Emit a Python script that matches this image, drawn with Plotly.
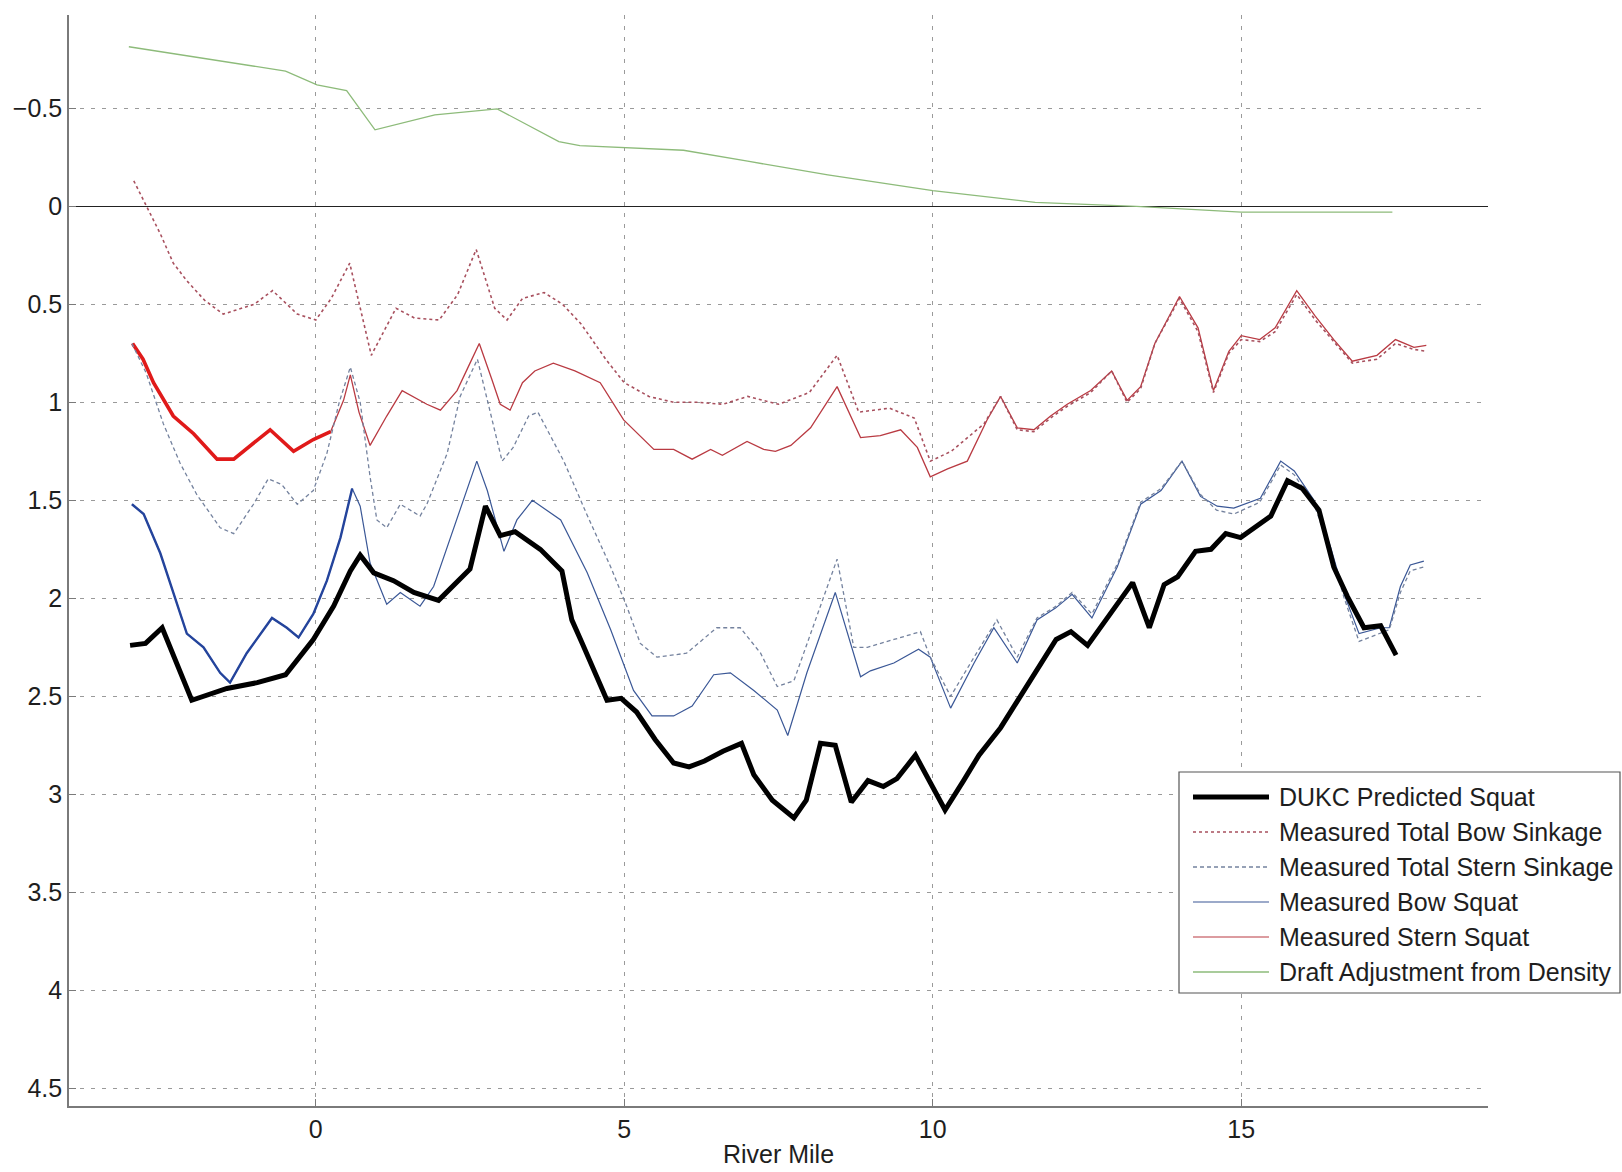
import plotly.graph_objects as go

# ---------------- data (river mile vs. squat / sinkage, ft) ----------------
dukc_mile = [-3.01, -2.76, -2.49, -2.01, -1.44, -0.95, -0.49, -0.04, 0.29, 0.56, 0.72, 0.94,
             1.26, 1.59, 1.99, 2.50, 2.75, 2.99, 3.23, 3.64, 3.99, 4.15, 4.32, 4.72, 4.95,
             5.20, 5.50, 5.80, 6.05, 6.30, 6.60, 6.90, 7.10, 7.40, 7.75, 7.95, 8.18, 8.42,
             8.68, 8.95, 9.20, 9.42, 9.72, 10.20, 10.50, 10.75, 11.10, 12.00, 12.24, 12.51,
             13.24, 13.51, 13.75, 13.97, 14.26, 14.51, 14.75, 14.99, 15.48, 15.75, 15.99,
             16.26, 16.50, 16.72, 16.99, 17.26, 17.51]
dukc_squat = [2.24, 2.23, 2.15, 2.52, 2.46, 2.43, 2.39, 2.21, 2.04, 1.86, 1.78, 1.87,
              1.91, 1.97, 2.01, 1.85, 1.53, 1.68, 1.66, 1.75, 1.86, 2.11, 2.23, 2.52, 2.51,
              2.58, 2.72, 2.84, 2.86, 2.83, 2.78, 2.74, 2.90, 3.03, 3.12, 3.03, 2.74, 2.75,
              3.04, 2.93, 2.96, 2.92, 2.80, 3.08, 2.93, 2.80, 2.66, 2.21, 2.17, 2.24,
              1.92, 2.15, 1.93, 1.89, 1.76, 1.75, 1.67, 1.69, 1.58, 1.40, 1.44,
              1.55, 1.84, 1.99, 2.15, 2.14, 2.29]

bow_sink_mile = [-2.95, -2.74, -2.52, -2.31, -2.09, -1.80, -1.50, -1.00, -0.70, -0.30, 0.00,
                 0.25, 0.55, 0.90, 1.30, 1.60, 2.00, 2.30, 2.60, 2.90, 3.10, 3.35, 3.70, 4.00,
                 4.30, 4.70, 5.00, 5.40, 5.80, 6.20, 6.60, 7.00, 7.50, 8.00, 8.45, 8.80, 9.30,
                 9.70, 9.96, 10.30, 10.83, 11.10, 11.37, 11.64, 11.91, 12.18, 12.56, 12.90,
                 13.15, 13.37, 13.60, 14.00, 14.30, 14.55, 14.80, 15.00, 15.30, 15.55, 15.90,
                 16.20, 16.50, 16.80, 17.20, 17.50, 17.80, 18.00]
bow_sink = [-0.13, 0.00, 0.14, 0.29, 0.38, 0.48, 0.55, 0.50, 0.43, 0.55, 0.58,
            0.47, 0.29, 0.76, 0.52, 0.57, 0.58, 0.45, 0.22, 0.52, 0.58, 0.47, 0.44, 0.50,
            0.60, 0.78, 0.90, 0.97, 1.00, 1.00, 1.01, 0.97, 1.01, 0.95, 0.76, 1.05, 1.03,
            1.08, 1.30, 1.25, 1.11, 0.97, 1.14, 1.15, 1.08, 1.02, 0.95, 0.84,
            1.00, 0.93, 0.70, 0.47, 0.64, 0.95, 0.75, 0.68, 0.69, 0.64, 0.45,
            0.58, 0.69, 0.80, 0.78, 0.70, 0.73, 0.74]

stern_sink_mile = [-2.98, -2.75, -2.47, -2.20, -1.93, -1.55, -1.33, -1.01, -0.77, -0.55, -0.30,
                   -0.04, 0.18, 0.38, 0.56, 0.72, 0.88, 0.99, 1.15, 1.37, 1.69, 1.80, 2.13,
                   2.34, 2.62, 2.83, 3.02, 3.20, 3.45, 3.60, 4.02, 4.39, 4.78, 5.04, 5.26,
                   5.53, 6.01, 6.50, 6.88, 7.21, 7.48, 7.75, 8.18, 8.45, 8.72, 8.94, 9.37,
                   9.80, 9.96, 10.29, 10.67, 11.04, 11.37, 11.69, 12.00, 12.26, 12.58, 13.00,
                   13.37, 13.70, 14.04, 14.34, 14.60, 14.88, 15.30, 15.64, 15.86, 16.18,
                   16.45, 16.67, 16.91, 17.26, 17.40, 17.58, 17.74, 17.96]
stern_sink = [0.70, 0.85, 1.11, 1.31, 1.47, 1.64, 1.67, 1.52, 1.39, 1.42, 1.52,
              1.45, 1.26, 1.00, 0.82, 1.00, 1.38, 1.60, 1.64, 1.52, 1.58, 1.52, 1.26,
              0.97, 0.78, 1.06, 1.30, 1.23, 1.07, 1.05, 1.30, 1.57, 1.84, 2.04, 2.23,
              2.30, 2.28, 2.15, 2.15, 2.28, 2.45, 2.42, 2.04, 1.80, 2.25, 2.25, 2.21,
              2.17, 2.30, 2.50, 2.30, 2.11, 2.30, 2.10, 2.04, 1.97, 2.08, 1.82,
              1.51, 1.44, 1.30, 1.47, 1.55, 1.57, 1.51, 1.32, 1.37, 1.52,
              1.76, 2.00, 2.22, 2.18, 2.16, 1.97, 1.86, 1.84]

bow_squat_mile = [-2.98, -2.79, -2.52, -2.20, -2.09, -1.82, -1.55, -1.39, -1.12, -0.71, -0.47,
                  -0.28, -0.04, 0.18, 0.40, 0.59, 0.72, 0.88, 1.15, 1.37, 1.69, 1.91, 2.23,
                  2.61, 2.78, 3.05, 3.26, 3.51, 3.97, 4.40, 4.78, 5.15, 5.45, 5.80, 6.10,
                  6.45, 6.72, 7.10, 7.48, 7.65, 7.96, 8.42, 8.83, 8.99, 9.37, 9.77, 9.96,
                  10.29, 10.67, 10.99, 11.37, 11.69, 11.99, 12.26, 12.58, 12.99, 13.37,
                  13.70, 14.04, 14.34, 14.61, 14.88, 15.31, 15.64, 15.86, 16.18, 16.45,
                  16.67, 16.91, 17.26, 17.40, 17.58, 17.74, 17.96]
bow_squat = [1.52, 1.57, 1.77, 2.08, 2.18, 2.25, 2.38, 2.43, 2.28, 2.10, 2.15,
             2.20, 2.08, 1.91, 1.69, 1.44, 1.53, 1.82, 2.03, 1.97, 2.04, 1.94, 1.65,
             1.30, 1.45, 1.76, 1.60, 1.50, 1.60, 1.87, 2.16, 2.47, 2.60, 2.60, 2.55,
             2.39, 2.38, 2.47, 2.57, 2.70, 2.38, 1.97, 2.40, 2.37, 2.33, 2.26, 2.30,
             2.56, 2.33, 2.15, 2.33, 2.11, 2.05, 1.98, 2.10, 1.84, 1.52,
             1.45, 1.30, 1.48, 1.53, 1.54, 1.49, 1.30, 1.35, 1.50, 1.74,
             1.98, 2.18, 2.15, 2.15, 1.94, 1.83, 1.81]

stern_squat_mile = [-2.97, -2.80, -2.63, -2.31, -1.98, -1.60, -1.33, -1.09, -0.74, -0.36, -0.04,
                    0.24, 0.45, 0.56, 0.70, 0.88, 1.15, 1.40, 1.80, 2.02, 2.29, 2.50, 2.65,
                    2.85, 2.99, 3.15, 3.35, 3.55, 3.85, 4.20, 4.61, 4.99, 5.48, 5.80, 6.10,
                    6.40, 6.59, 6.99, 7.26, 7.45, 7.70, 8.02, 8.45, 8.83, 9.15, 9.48, 9.75,
                    9.96, 10.24, 10.56, 10.88, 11.10, 11.37, 11.64, 11.91, 12.18, 12.56,
                    12.90, 13.15, 13.37, 13.60, 14.00, 14.30, 14.55, 14.80, 15.00, 15.30,
                    15.55, 15.90, 16.20, 16.50, 16.80, 17.20, 17.50, 17.80, 18.00]
stern_squat = [0.70, 0.78, 0.90, 1.07, 1.16, 1.29, 1.29, 1.23, 1.14, 1.25, 1.19,
               1.15, 0.99, 0.86, 1.05, 1.22, 1.07, 0.94, 1.01, 1.04, 0.94, 0.80, 0.70,
               0.88, 1.01, 1.04, 0.90, 0.84, 0.80, 0.84, 0.90, 1.09, 1.24, 1.24, 1.29,
               1.24, 1.27, 1.20, 1.24, 1.25, 1.22, 1.13, 0.92, 1.18, 1.17, 1.14, 1.23,
               1.38, 1.34, 1.30, 1.09, 0.97, 1.13, 1.14, 1.07, 1.01, 0.94,
               0.84, 0.99, 0.92, 0.70, 0.46, 0.62, 0.94, 0.74, 0.66, 0.68,
               0.62, 0.43, 0.56, 0.68, 0.79, 0.76, 0.68, 0.72, 0.71]

density_mile = [-3.03, -1.82, -0.49, 0.02, 0.50, 0.96, 1.93, 2.94, 3.94, 4.28, 5.96, 7.00,
                8.30, 10.00, 11.66, 13.30, 15.00, 17.45]
density_adj = [-0.814, -0.755, -0.69, -0.62, -0.59, -0.39, -0.466, -0.497, -0.33, -0.31,
               -0.286, -0.23, -0.16, -0.08, -0.02, 0.0, 0.03, 0.03]

x_ticks = [0, 5, 10, 15]

# ---------------- figure geometry ----------------
W, H = 1622, 1172
ML, MR, MT, MB = 69, 134, 15, 66
PW, PH = W - ML - MR, H - MT - MB


def px(X):
    return (X - ML) / PW


def py(Y):
    return (MT + PH - Y) / PH


FONT = "Liberation Sans, Arial, Helvetica, sans-serif"
TXT = "#1e1e1e"

C_DUKC = "#000000"
C_BOW_SINK = "#a8505e"
C_STERN_SINK = "#74829e"
C_BOW = "#3a5796"
C_BOW_DENSE = "#24449c"
C_STERN = "#b93a42"
C_STERN_DENSE = "#e01a1a"
C_DENS = "#8dbb7a"
C_GRID = "#9a9a9a"
C_AXIS = "#7a7a7a"

fig = go.Figure()

fig.add_trace(go.Scatter(x=density_mile, y=density_adj, mode="lines",
                         name="Draft Adjustment from Density",
                         line=dict(color=C_DENS, width=1.3)))
fig.add_trace(go.Scatter(x=stern_squat_mile, y=stern_squat, mode="lines",
                         name="Measured Stern Squat",
                         line=dict(color=C_STERN, width=1.3)))
# the noisy upstream stretch of the stern record reads as a heavier band
n_s = sum(1 for m in stern_squat_mile if m <= 0.3)
fig.add_trace(go.Scatter(x=stern_squat_mile[:n_s], y=stern_squat[:n_s], mode="lines",
                         showlegend=False, line=dict(color=C_STERN_DENSE, width=3.6)))
fig.add_trace(go.Scatter(x=bow_squat_mile, y=bow_squat, mode="lines",
                         name="Measured Bow Squat",
                         line=dict(color=C_BOW, width=1.2)))
n_b = sum(1 for m in bow_squat_mile if m <= 0.6)
fig.add_trace(go.Scatter(x=bow_squat_mile[:n_b], y=bow_squat[:n_b], mode="lines",
                         showlegend=False, line=dict(color=C_BOW_DENSE, width=2.4)))
fig.add_trace(go.Scatter(x=bow_sink_mile, y=bow_sink, mode="lines",
                         name="Measured Total Bow Sinkage",
                         line=dict(color=C_BOW_SINK, width=1.6, dash="dot")))
fig.add_trace(go.Scatter(x=stern_sink_mile, y=stern_sink, mode="lines",
                         name="Measured Total Stern Sinkage",
                         line=dict(color=C_STERN_SINK, width=1.3, dash="4px,3px")))
fig.add_trace(go.Scatter(x=dukc_mile, y=dukc_squat, mode="lines",
                         name="DUKC Predicted Squat",
                         line=dict(color=C_DUKC, width=5)))

# ---------------- legend box ----------------
legend_items = [
    ("DUKC Predicted Squat", C_DUKC, 5, "solid"),
    ("Measured Total Bow Sinkage", C_BOW_SINK, 1.6, "dot"),
    ("Measured Total Stern Sinkage", C_STERN_SINK, 1.3, "4px,3px"),
    ("Measured Bow Squat", C_BOW, 1.2, "solid"),
    ("Measured Stern Squat", C_STERN, 1.2, "solid"),
    ("Draft Adjustment from Density", C_DENS, 1.3, "solid"),
]
shapes = [dict(type="rect", xref="paper", yref="paper",
               x0=px(1179), x1=px(1620), y0=py(993), y1=py(772),
               line=dict(color="#555555", width=1.2), fillcolor="white", layer="above")]
annotations = []
for i, (label, col, w, dash) in enumerate(legend_items):
    yy = py(797 + 35 * i)
    shapes.append(dict(type="line", xref="paper", yref="paper",
                       x0=px(1193), x1=px(1269), y0=yy, y1=yy, layer="above",
                       line=dict(color=col, width=w, dash=dash)))
    annotations.append(dict(xref="paper", yref="paper", x=px(1277), y=yy,
                            xanchor="left", yanchor="middle", showarrow=False,
                            text=label, font=dict(family=FONT, size=25, color=TXT)))

fig.update_layout(
    width=W, height=H,
    margin=dict(l=ML, r=MR, t=MT, b=MB),
    paper_bgcolor="white", plot_bgcolor="white",
    showlegend=False,
    font=dict(family=FONT, size=25, color=TXT),
    shapes=shapes, annotations=annotations,
)

fig.update_xaxes(
    range=[-4, 19], tickvals=x_ticks,
    showline=True, linecolor=C_AXIS, linewidth=1.6,
    ticks="inside", ticklen=7, tickcolor=C_AXIS,
    showgrid=True, gridcolor=C_GRID, griddash="4px,7px", gridwidth=1,
    zeroline=False, automargin=False,
    title=dict(text="River Mile", font=dict(family=FONT, size=25, color=TXT), standoff=4),
    tickfont=dict(family=FONT, size=25, color=TXT),
)
fig.update_yaxes(
    range=[4.59, -0.976], tick0=0, dtick=0.5,
    showline=True, linecolor=C_AXIS, linewidth=1.6,
    ticks="inside", ticklen=7, tickcolor=C_AXIS,
    showgrid=True, gridcolor=C_GRID, griddash="4px,7px", gridwidth=1,
    zeroline=True, zerolinecolor="#222222", zerolinewidth=1, automargin=False,
    tickfont=dict(family=FONT, size=25, color=TXT),
)

fig.write_html("out.html")
